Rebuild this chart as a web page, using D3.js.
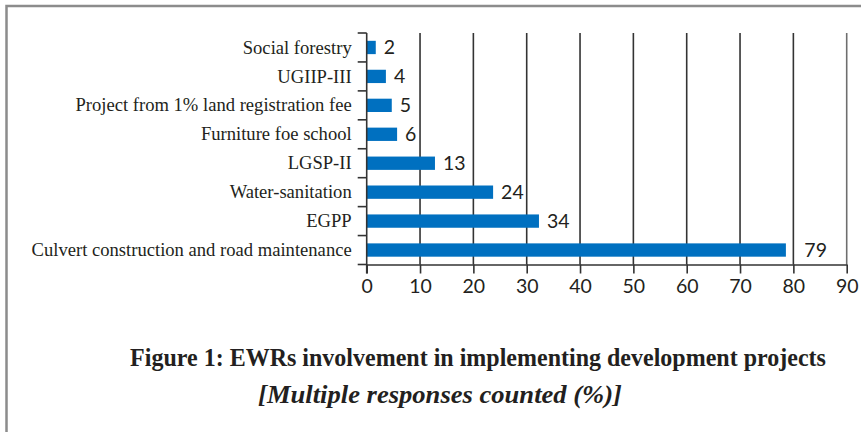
<!DOCTYPE html>
<html>
<head>
<meta charset="utf-8">
<script src="https://cdn.jsdelivr.net/npm/d3@7"></script>
<style>
  body { margin: 0; background: #fff; }
  .cat-label { font-family: "Liberation Serif", "Times New Roman", serif; font-size: 18.6px; fill: #231f20; }
  .num { font-family: Lato, "Open Sans", sans-serif; font-size: 19.5px; fill: #231f20; }
  .title { font-family: "Liberation Serif", "Times New Roman", serif; font-weight: bold; fill: #231f20; }
</style>
</head>
<body>
<div id="chart"></div>
<script>
// data, top to bottom
const categories = [
  "Social forestry",
  "UGIIP-III",
  "Project from 1% land registration fee",
  "Furniture foe school",
  "LGSP-II",
  "Water-sanitation",
  "EGPP",
  "Culvert construction and road maintenance"
];
// bar lengths as drawn
const values = [1.7, 3.6, 4.7, 5.7, 12.8, 23.7, 32.3, 78.6];
// data labels printed next to the bars
const valueLabels = ["2", "4", "5", "6", "13", "24", "34", "79"];
const xTicks = [0, 10, 20, 30, 40, 50, 60, 70, 80, 90];

const titleText = "Figure 1: EWRs involvement in implementing development projects";
const subtitleText = "[Multiple responses counted (%)]";

(function () {

  const svg_width = 861, svg_height = 432;
  const plot = { left: 366.7, right: 846.7, top: 33, bottom: 264.5 };

  const svg = d3.select("#chart").append("svg")
    .attr("width", svg_width)
    .attr("height", svg_height);

  // frame (top and left edge only visible)
  svg.append("path")
    .attr("d", "M6.5," + svg_height + "V6H" + svg_width)
    .attr("fill", "none")
    .attr("stroke", "#8c8c8c")
    .attr("stroke-width", 2.5);

  // scales
  const x = d3.scaleLinear()
    .domain([0, 90])
    .range([plot.left, plot.right]);
  const y = d3.scaleBand()
    .domain(categories)
    .range([plot.top, plot.bottom])
    .paddingInner(0.54)
    .paddingOuter(0.27);
  const yEdge = d3.scaleLinear()
    .domain([0, categories.length])
    .range([plot.top, plot.bottom]);

  // vertical grid lines
  svg.selectAll(".grid")
    .data(xTicks.filter(d => d > 0))
    .enter().append("line")
    .attr("class", "grid")
    .attr("x1", d => x(d)).attr("x2", d => x(d))
    .attr("y1", plot.top).attr("y2", plot.bottom)
    .attr("stroke", d => d === 90 ? "#6e6e6e" : "#333")
    .attr("stroke-width", 1.6);

  // bars
  svg.selectAll(".bar")
    .data(categories)
    .enter().append("rect")
    .attr("class", "bar")
    .attr("x", x(0))
    .attr("y", d => y(d))
    .attr("width", (d, i) => x(values[i]) - x(0))
    .attr("height", y.bandwidth())
    .attr("fill", "#0070c0");

  // data labels; a label that would start on a grid line is moved past it
  function labelX(v) {
    let pos = x(v) + 8;
    xTicks.forEach(t => {
      if (Math.abs(pos - x(t)) < 4) pos = x(t) + 11;
    });
    return pos;
  }
  svg.selectAll(".val")
    .data(categories)
    .enter().append("text")
    .attr("class", "num")
    .attr("x", (d, i) => labelX(values[i]))
    .attr("y", d => y(d) + y.bandwidth() / 2)
    .attr("dy", "0.36em")
    .text((d, i) => valueLabels[i]);

  // x axis
  const xAxis = svg.append("g")
    .attr("transform", "translate(0," + plot.bottom + ")")
    .call(d3.axisBottom(x).tickValues(xTicks).tickSize(9).tickPadding(6).tickSizeOuter(0));
  xAxis.select(".domain").attr("stroke", "#333").attr("stroke-width", 1.6);
  xAxis.selectAll(".tick line").attr("stroke", "#333").attr("stroke-width", 1.6);
  xAxis.selectAll("text").attr("class", "num").attr("font-size", null).attr("font-family", null);

  // y axis: line, boundary ticks, category labels
  const yAxis = svg.append("g");
  yAxis.append("line")
    .attr("x1", plot.left).attr("x2", plot.left)
    .attr("y1", plot.top).attr("y2", plot.bottom + 9)
    .attr("stroke", "#333").attr("stroke-width", 1.6);
  yAxis.selectAll(".ytick")
    .data(d3.range(categories.length + 1))
    .enter().append("line")
    .attr("x1", plot.left - 9).attr("x2", plot.left)
    .attr("y1", d => yEdge(d)).attr("y2", d => yEdge(d))
    .attr("stroke", "#333").attr("stroke-width", 1.6);
  yAxis.selectAll(".cat-label")
    .data(categories)
    .enter().append("text")
    .attr("class", "cat-label")
    .attr("x", plot.left - 15)
    .attr("y", d => y(d) + y.bandwidth() / 2)
    .attr("dy", "0.33em")
    .attr("text-anchor", "end")
    .text(d => d);

  // caption: condensed bold serif, squeezed horizontally to the printed width
  function caption(text, cx, baseline, targetWidth, italic) {
    const t = svg.append("text")
      .attr("class", "title")
      .attr("font-size", 26)
      .attr("font-style", italic ? "italic" : "normal")
      .attr("text-anchor", "middle")
      .text(text);
    const sx = targetWidth / t.node().getComputedTextLength();
    t.attr("transform", "translate(" + cx + "," + baseline + ") scale(" + sx + ",1)");
  }
  caption(titleText, 478, 366, 696, false);
  caption(subtitleText, 440, 403, 364, true);

})();
</script>
</body>
</html>
